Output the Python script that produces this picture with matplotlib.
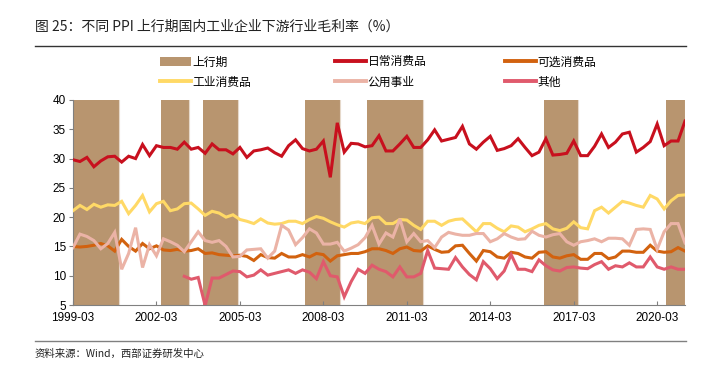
import numpy as np
import matplotlib
matplotlib.use("Agg")
import matplotlib.pyplot as plt
from matplotlib.patches import Patch
from matplotlib.lines import Line2D

plt.rcParams['font.family'] = ['Liberation Sans', 'Noto Sans CJK SC', 'DejaVu Sans']

start_year, start_month = 1999, 3
n_points = 89  # quarterly, 1999-03 .. 2021-03

daily = [29.8, 29.5, 30.2, 28.6, 29.6, 30.3, 30.4, 29.4, 30.4, 30.0, 32.4, 30.5, 32.2, 31.9, 31.9, 31.6,
         32.8, 31.6, 31.9, 30.9, 32.5, 31.5, 31.5, 30.8, 31.9, 30.2, 31.3, 31.5, 31.8, 31.0, 30.4, 32.2,
         33.2, 31.7, 31.3, 31.6, 33.0, 26.8, 36.1, 31.1, 32.6, 32.5, 32.0, 32.2, 33.9, 31.3, 31.3, 32.5,
         33.8, 31.9, 31.9, 33.2, 34.9, 33.0, 33.3, 33.6, 35.5, 32.5, 31.6, 32.8, 33.8, 31.4, 31.7, 32.2,
         33.4, 31.9, 30.5, 31.1, 33.4, 30.6, 30.7, 30.9, 33.0, 30.5, 30.5, 32.1, 34.2, 31.9, 32.8, 34.2,
         34.5, 31.1, 31.9, 32.9, 35.9, 32.2, 33.0, 33.0, 36.4]
optional = [15.0, 14.9, 15.0, 15.2, 15.5, 15.1, 14.2, 16.2, 15.0, 14.2, 15.5, 14.6, 15.1, 14.4, 14.3, 14.5,
            14.2, 14.3, 14.6, 13.8, 13.9, 13.6, 13.5, 13.4, 13.5, 13.3, 12.6, 13.6, 13.1, 13.0, 13.8, 13.2,
            13.2, 13.6, 13.2, 13.8, 13.6, 12.5, 13.4, 13.6, 13.8, 13.8, 14.1, 14.6, 14.6, 14.3, 13.8, 14.6,
            14.9, 14.3, 14.2, 15.1, 14.5, 14.0, 14.1, 15.1, 15.2, 13.8, 12.5, 14.3, 14.1, 13.2, 13.0, 14.0,
            13.8, 13.2, 13.0, 14.0, 14.1, 13.2, 13.0, 13.4, 13.6, 12.8, 12.8, 13.8, 13.8, 12.9, 13.2, 14.2,
            14.2, 14.0, 14.0, 15.2, 14.2, 14.0, 14.1, 14.8, 14.2]
industrial = [21.1, 22.0, 21.3, 22.2, 21.7, 22.1, 22.0, 22.7, 20.6, 22.0, 23.7, 20.9, 22.3, 22.7, 21.1, 21.4,
              22.3, 22.4, 21.4, 20.3, 21.0, 20.7, 20.0, 20.4, 19.6, 19.3, 18.9, 19.7, 19.0, 18.8, 18.9, 19.3,
              19.3, 18.9, 19.6, 20.1, 19.8, 19.2, 18.7, 18.3, 19.0, 19.2, 18.9, 19.9, 20.0, 18.9, 18.9, 19.6,
              19.5, 18.6, 17.9, 19.3, 19.3, 18.6, 19.3, 19.6, 19.7, 18.6, 17.5, 18.9, 18.9, 18.1, 17.5, 18.5,
              18.3, 17.5, 18.0, 18.6, 18.9, 18.0, 17.7, 18.1, 19.2, 18.2, 18.0, 21.1, 21.7, 20.7, 21.7, 22.7,
              22.4, 22.0, 21.7, 23.7, 23.1, 21.4, 22.8, 23.7, 23.8]
utility = [14.8, 17.1, 16.7, 16.0, 14.6, 15.5, 17.4, 11.1, 13.8, 18.2, 11.4, 15.3, 13.4, 16.3, 15.8, 15.2,
           14.1, 15.8, 17.5, 16.0, 15.7, 16.0, 15.0, 13.2, 13.3, 14.4, 14.5, 14.6, 13.0, 14.2, 18.6, 17.8,
           15.3, 16.5, 18.0, 17.3, 15.4, 15.4, 15.7, 14.2, 14.7, 15.3, 16.5, 18.6, 15.4, 17.3, 16.6, 19.7,
           15.8, 17.2, 15.8, 16.0, 14.8, 16.6, 17.4, 17.1, 16.9, 16.9, 17.2, 17.2, 15.8, 16.3, 17.2, 16.6,
           16.2, 16.3, 17.6, 16.9, 16.6, 17.0, 17.2, 15.8, 15.2, 15.8, 16.0, 16.3, 15.8, 16.4, 16.4, 16.3,
           15.2, 17.9, 18.0, 17.9, 14.5, 17.5, 18.9, 18.9, 15.6]
other = [np.nan] * 16 + [
    9.9, 9.4, 9.7, 4.9, 9.6, 9.6, 10.2, 10.8, 10.7, 9.8, 10.1, 11.0, 10.1, 10.4, 10.7, 11.0,
    10.4, 11.0, 10.6, 9.5, 12.4, 10.0, 9.8, 6.4, 9.0, 11.1, 10.4, 11.8, 11.1, 10.7, 9.8, 11.5,
    9.8, 9.8, 10.4, 14.3, 11.3, 11.2, 11.1, 13.1, 11.5, 10.2, 9.3, 12.4, 11.2, 9.5, 10.8, 13.6,
    11.1, 11.1, 10.7, 12.7, 11.7, 11.0, 10.8, 11.4, 11.5, 11.3, 11.2, 11.9, 12.4, 11.1, 11.7, 11.5,
    12.2, 11.5, 11.5, 13.2, 11.5, 11.1, 11.5, 11.1, 11.1]

upswings = [('1999-03', '2000-11'), ('2002-05', '2003-05'), ('2003-11', '2005-02'),
            ('2007-07', '2008-10'), ('2009-10', '2011-10'), ('2016-02', '2017-05'),
            ('2020-07', '2021-03')]

series_names = ['日常消费品', '可选消费品', '工业消费品', '公用事业', '其他']
series_colors = ['#C8101E', '#D2620F', '#FFD966', '#EBB3A6', '#E05A6C']
band_name = '上行期'
band_color = '#B8956F'
xtick_labels = ['1999-03', '2002-03', '2005-03', '2008-03', '2011-03', '2014-03', '2017-03', '2020-03']


def to_q(s):
    y, m = map(int, s.split('-'))
    return ((y - start_year) * 12 + (m - start_month)) / 3.0


x = np.arange(n_points)
fig = plt.figure(figsize=(7.04, 3.73), dpi=100)
ax = fig.add_axes([73 / 704, 1 - 305 / 373, 612 / 704, 205 / 373])

for a, b in upswings:
    ax.axvspan(to_q(a), to_q(b), color=band_color, lw=0, zorder=1)
    ax.axvline(to_q(b), color='#E6D9CB', lw=0.8, zorder=1.1)

all_series = [daily, optional, industrial, utility, other]
for vals, name, c in zip(all_series, series_names, series_colors):
    ax.plot(x, vals, color=c, lw=2.2, zorder=3, solid_joinstyle='miter')

ax.set_xlim(0, n_points - 1)
ax.set_ylim(5, 40)
ax.set_yticks(np.arange(5, 41, 5))
ax.set_xticks([to_q(t) for t in xtick_labels])
ax.set_xticklabels(xtick_labels)
for sp in ['top', 'right']:
    ax.spines[sp].set_visible(False)
for sp in ['left', 'bottom']:
    ax.spines[sp].set_color('#808080')
    ax.spines[sp].set_linewidth(0.8)
ax.tick_params(axis='y', direction='out', length=3, color='#808080', labelsize=8.5, pad=2, labelcolor='#000000')
ax.tick_params(axis='x', direction='in', length=3, color='#808080', labelsize=8.5, pad=5, labelcolor='#000000')

# title & rules
fig.text(35 / 704, 1 - 27 / 373, '图 25：不同 PPI 上行期国内工业企业下游行业毛利率（%）',
         fontsize=10, color='#222222', va='center', ha='left',
         family=['Noto Sans CJK SC', 'DejaVu Sans'])
fig.add_artist(Line2D([35 / 704, 686 / 704], [1 - 45.5 / 373] * 2, color='#333333', lw=1.0))
fig.add_artist(Line2D([35 / 704, 686 / 704], [1 - 340.5 / 373] * 2, color='#808080', lw=1.0))
fig.text(35 / 704, 1 - 354 / 373, '资料来源：Wind，西部证券研发中心', fontsize=7.5, color='#222222',
         va='center', ha='left', family=['Noto Sans CJK SC', 'DejaVu Sans'])

# legend in three columns
h_band = Patch(facecolor=band_color, edgecolor='none')
hl = [Line2D([], [], color=c, lw=2.8) for c in series_colors]
cols = [([h_band, hl[2]], [band_name, series_names[2]], 160),
        ([hl[0], hl[3]], [series_names[0], series_names[3]], 335),
        ([hl[1], hl[4]], [series_names[1], series_names[4]], 505)]
for hs, ls, xp in cols:
    lg = fig.legend(hs, ls, loc='upper left', bbox_to_anchor=(xp / 704, 1 - 55.5 / 373),
                    frameon=False, borderpad=0, borderaxespad=0, handlelength=2.6, handleheight=0.9,
                    handletextpad=0.15, labelspacing=0.6,
                    prop={'family': ['Noto Sans CJK SC', 'DejaVu Sans'], 'size': 8.5})

fig.savefig('out.png', dpi=100)
